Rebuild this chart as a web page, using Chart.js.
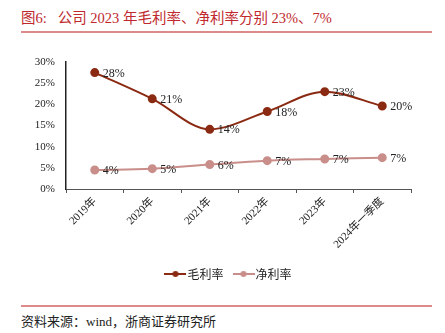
<!DOCTYPE html>
<html>
<head>
<meta charset="utf-8">
<script src="https://cdn.jsdelivr.net/npm/chart.js@4"></script>
<style>
  body { margin: 0; width: 445px; height: 333px; background: #fff; position: relative; overflow: hidden; }
  .title { position: absolute; left: 21px; top: 6px; font: 14.5px "Liberation Serif", "Noto Sans CJK SC", serif; color: #c0282d; white-space: pre; }
  .rule { position: absolute; left: 21px; width: 411px; height: 2px; background: #dd8a8a; }
  .src { position: absolute; left: 21px; top: 311px; font: 13px "Liberation Serif", "Noto Sans CJK SC", serif; color: #222; }
  #wrap { position: absolute; left: 0; top: 50px; width: 445px; height: 240px; }
</style>
</head>
<body>
<div class="title">图6:   公司 2023 年毛利率、净利率分别 23%、7%</div>
<div class="rule" style="top:31px"></div>
<div id="wrap"><canvas id="chart"></canvas></div>
<div class="rule" style="top:305px"></div>
<div class="src">资料来源：wind，浙商证券研究所</div>
<script>
const categories = ['2019年', '2020年', '2021年', '2022年', '2023年', '2024年一季度'];
const grossMargin = [27.5, 21.3, 14.1, 18.3, 23.0, 19.6];
const netMargin = [4.5, 4.8, 5.8, 6.7, 7.1, 7.4];
const grossLabels = ['28%', '21%', '14%', '18%', '23%', '20%'];
const netLabels = ['4%', '5%', '6%', '7%', '7%', '7%'];
const yTicks = [0, 5, 10, 15, 20, 25, 30];

const GROSS = '#8b2a12';
const NET = '#c98e8a';
const serif = '"Liberation Serif", "Noto Sans CJK SC", serif';

function legendMark(color) {
    const c = document.createElement('canvas');
    c.width = 22; c.height = 8;
    const g = c.getContext('2d');
    g.strokeStyle = color; g.lineWidth = 2;
    g.beginPath(); g.moveTo(0, 4); g.lineTo(22, 4); g.stroke();
    g.fillStyle = color;
    g.beginPath(); g.arc(11, 4, 3, 0, Math.PI * 2); g.fill();
    return c;
}

const valueLabels = {
    id: 'valueLabels',
    afterDatasetsDraw(chart) {
        const ctx = chart.ctx;
        ctx.save();
        ctx.font = '12px ' + serif;
        ctx.fillStyle = '#222';
        ctx.textBaseline = 'middle';
        const sets = [grossLabels, netLabels];
        chart.data.datasets.forEach((ds, i) => {
            chart.getDatasetMeta(i).data.forEach((pt, j) => {
                ctx.fillText(sets[i][j], pt.x + 8, pt.y + 1);
            });
        });
        ctx.restore();
    }
};

new Chart(document.getElementById('chart').getContext('2d'), {
    type: 'line',
    data: {
        labels: categories,
        datasets: [
            {
                label: '毛利率',
                data: grossMargin,
                borderColor: GROSS,
                backgroundColor: GROSS,
                borderWidth: 2,
                pointRadius: 3.5,
                pointHoverRadius: 3.5,
                cubicInterpolationMode: 'monotone'
            },
            {
                label: '净利率',
                data: netMargin,
                borderColor: NET,
                backgroundColor: NET,
                borderWidth: 2,
                pointRadius: 3.5,
                pointHoverRadius: 3.5,
                tension: 0.4
            }
        ]
    },
    options: {
        responsive: true,
        maintainAspectRatio: false,
        animation: false,
        layout: { padding: { top: 12, right: 0, left: 16, bottom: 0 } },
        plugins: {
            tooltip: { enabled: false },
            legend: {
                position: 'bottom',
                labels: {
                    color: '#222',
                    font: { size: 12, family: '"Noto Sans CJK SC", sans-serif' },
                    usePointStyle: true,
                    padding: 14,
                    generateLabels: (chart) => chart.data.datasets.map((ds, i) => ({
                        text: ds.label,
                        pointStyle: legendMark(ds.borderColor),
                        fontColor: '#222',
                        datasetIndex: i,
                        lineWidth: 0
                    }))
                }
            }
        },
        scales: {
            x: {
                offset: true,
                grid: { display: true, drawOnChartArea: false, offset: true, tickLength: 4, color: '#555' },
                border: { color: '#555', width: 1 },
                ticks: { color: '#222', font: { size: 11, family: serif }, minRotation: 45, maxRotation: 45, padding: 2 },
                afterFit: (s) => { s.height = 65; }
            },
            y: {
                min: 0,
                max: 30,
                afterBuildTicks: (s) => { s.ticks = yTicks.map(v => ({ value: v })); },
                grid: { display: false },
                border: { color: '#222', width: 1.5 },
                ticks: { color: '#222', font: { size: 11, family: serif }, padding: 3, callback: (v) => v + '%' },
                afterFit: (s) => { s.width = 50; }
            },
            pad: {
                position: 'right',
                grid: { display: false },
                border: { display: false },
                ticks: { display: false },
                afterFit: (s) => { s.width = 34; }
            }
        }
    },
    plugins: [valueLabels]
});
</script>
</body>
</html>
